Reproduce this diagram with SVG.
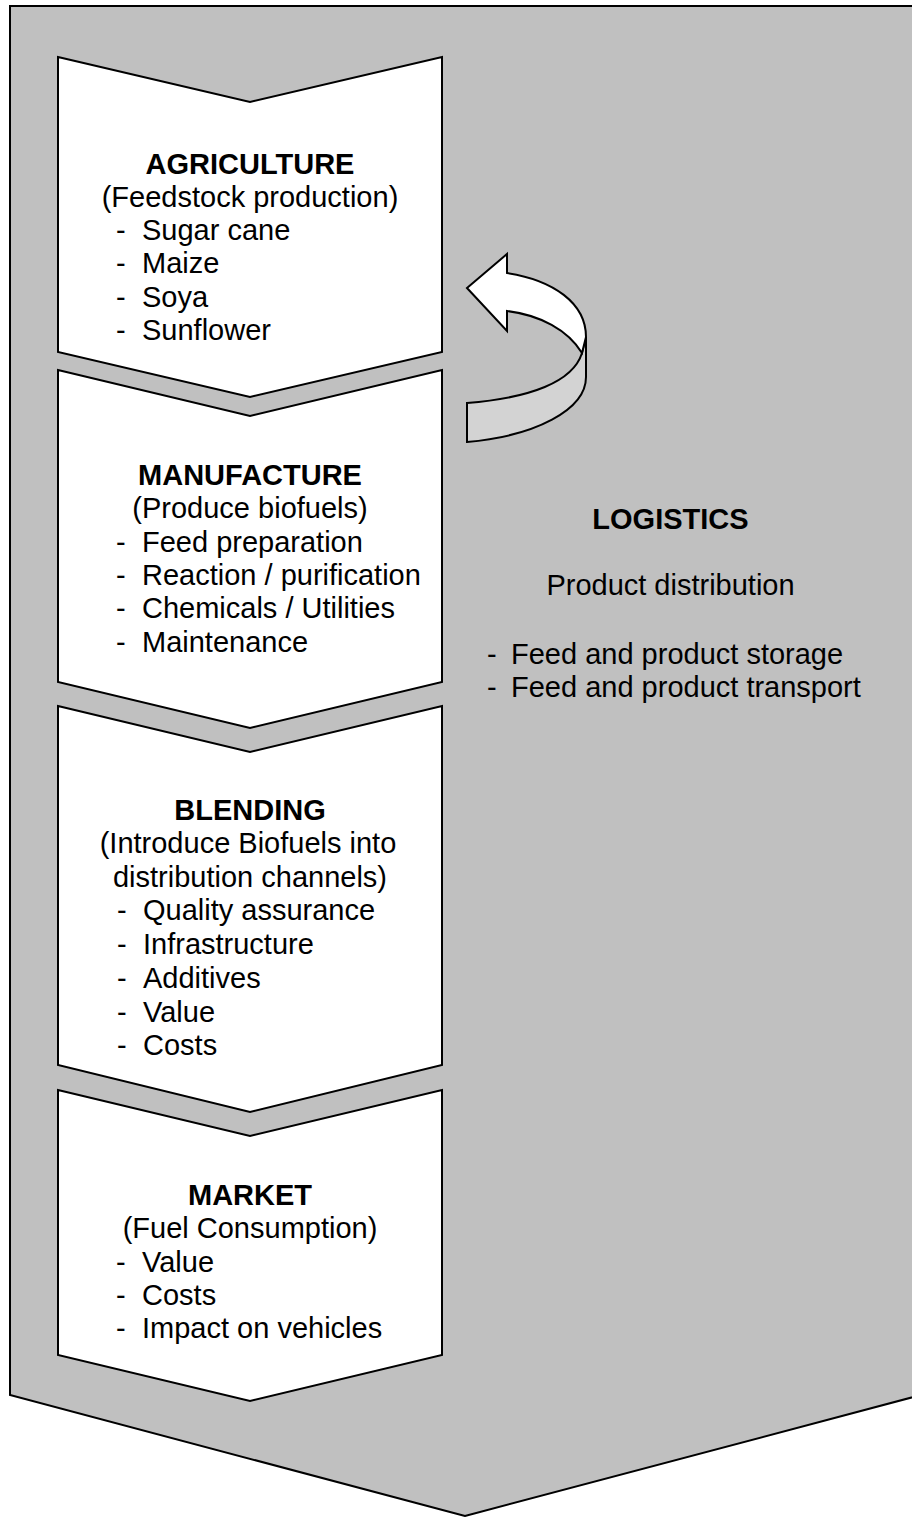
<svg xmlns="http://www.w3.org/2000/svg" width="912" height="1517" viewBox="0 0 912 1517">
<style>
.shape{stroke:#000;stroke-width:2;stroke-linejoin:miter}
.t{font-family:"Liberation Sans",Arial,sans-serif;font-size:29px;fill:#000}
.b{font-weight:bold}
.c{text-anchor:middle}
</style>
<rect width="912" height="1517" fill="#ffffff"/>
<g id="logistics">
<polygon class="shape" fill="#c0c0c0" points="10,6 921,6 921,1395 465,1516 10,1395"/>
<text class="t b c" x="670.5" y="528.5">LOGISTICS</text>
<text class="t c" x="670.5" y="595">Product distribution</text>
<text class="t" x="487" y="663.5">-</text><text class="t" x="511" y="663.5">Feed and product storage</text>
<text class="t" x="487" y="697">-</text><text class="t" x="511" y="697">Feed and product transport</text>
</g>
<g id="agriculture">
<polygon class="shape" fill="#ffffff" points="58,57 250,102 442,57 442,352 250,397 58,352"/>
<text class="t b c" x="250" y="173.5">AGRICULTURE</text>
<text class="t c" x="250" y="206.8">(Feedstock production)</text>
<text class="t" x="116" y="240">-</text><text class="t" x="142" y="240">Sugar cane</text>
<text class="t" x="116" y="273.3">-</text><text class="t" x="142" y="273.3">Maize</text>
<text class="t" x="116" y="306.6">-</text><text class="t" x="142" y="306.6">Soya</text>
<text class="t" x="116" y="340">-</text><text class="t" x="142" y="340">Sunflower</text>
</g>
<g id="manufacture">
<polygon class="shape" fill="#ffffff" points="58,370 250,416 442,370 442,682 250,728 58,682"/>
<text class="t b c" x="250" y="485">MANUFACTURE</text>
<text class="t c" x="250" y="518.3">(Produce biofuels)</text>
<text class="t" x="116" y="551.7">-</text><text class="t" x="142" y="551.7">Feed preparation</text>
<text class="t" x="116" y="585">-</text><text class="t" x="142" y="585">Reaction / purification</text>
<text class="t" x="116" y="618.3">-</text><text class="t" x="142" y="618.3">Chemicals / Utilities</text>
<text class="t" x="116" y="651.7">-</text><text class="t" x="142" y="651.7">Maintenance</text>
</g>
<g id="blending">
<polygon class="shape" fill="#ffffff" points="58,706 250,752 442,706 442,1065 250,1112 58,1065"/>
<text class="t b c" x="250" y="819.5">BLENDING</text>
<text class="t c" x="248" y="853">(Introduce Biofuels into</text>
<text class="t c" x="250" y="886.7">distribution channels)</text>
<text class="t" x="117" y="920.4">-</text><text class="t" x="143" y="920.4">Quality assurance</text>
<text class="t" x="117" y="954.1">-</text><text class="t" x="143" y="954.1">Infrastructure</text>
<text class="t" x="117" y="987.8">-</text><text class="t" x="143" y="987.8">Additives</text>
<text class="t" x="117" y="1021.5">-</text><text class="t" x="143" y="1021.5">Value</text>
<text class="t" x="117" y="1055">-</text><text class="t" x="143" y="1055">Costs</text>
</g>
<g id="market">
<polygon class="shape" fill="#ffffff" points="58,1090 250,1136 442,1090 442,1355 250,1401 58,1355"/>
<text class="t b c" x="250" y="1205">MARKET</text>
<text class="t c" x="250" y="1238.3">(Fuel Consumption)</text>
<text class="t" x="116" y="1271.7">-</text><text class="t" x="142" y="1271.7">Value</text>
<text class="t" x="116" y="1305">-</text><text class="t" x="142" y="1305">Costs</text>
<text class="t" x="116" y="1338.3">-</text><text class="t" x="142" y="1338.3">Impact on vehicles</text>
</g>
<g id="connectors">
<path class="shape" fill="#d3d3d3" d="M586,337 L586,377 C586,410 535,436 467,442 L467,403 C530,398 573,382 582,353 Z"/>
<path class="shape" fill="#ffffff" d="M467,288 L507,254 L507,273 C553,280 586,303 586,337 L582,353 C568,330 540,315 507,311 L507,331 Z"/>
</g>
</svg>
